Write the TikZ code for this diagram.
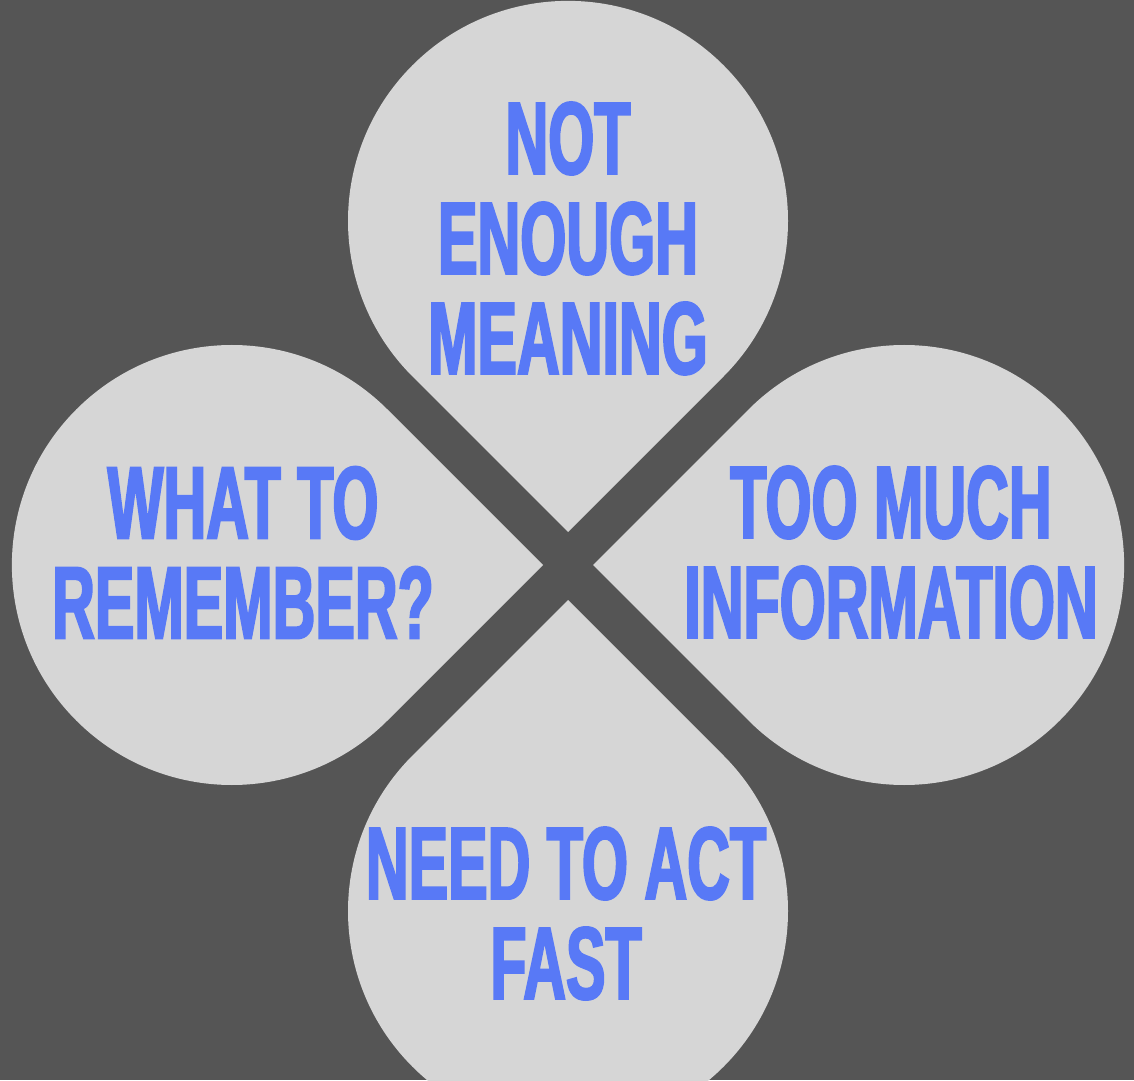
\documentclass[tikz,border=0pt]{standalone}
\usepackage{fontspec}
\newfontfamily\clovfont{Liberation Sans}[FakeStretch=0.575,FakeBold=2]
\definecolor{bgdark}{HTML}{555555}
\definecolor{leafgray}{HTML}{D6D6D6}
\definecolor{leafblue}{RGB}{88,121,246}
\tikzset{
  leaf/.style={fill=leafgray},
  leaflabel/.style={text=leafblue, align=center, inner sep=0pt,
    font=\clovfont\bfseries\fontsize{103pt}{100pt}\selectfont}
}
\begin{document}
\begin{tikzpicture}[x=1pt,y=1pt]
    \fill[bgdark] (0,0) rectangle (1134,1080);
    \clip (0,0) rectangle (1134,1080);
    \coordinate (C) at (568,515);

    % four drops, tip towards C
    \foreach \ang/\tip in {90/33,180/25,0/25,270/35}
    {
        \fill[leaf] (C) ++(\ang:\tip) -- ++(\ang+45:220)
            arc[start angle=\ang+135, end angle=\ang-135, radius=220] -- cycle;
    }

    \node[leaflabel] (meaning) at (568,841.5) {NOT\\ENOUGH\\MEANING};
    \node[leaflabel] (remember) at (243,527.5) {WHAT TO\\REMEMBER?};
    \node[leaflabel] (information) at (891,527.5) {TOO MUCH\\INFORMATION};
    \node[leaflabel] (fast) at (566,166.5) {NEED TO ACT\\FAST};
\end{tikzpicture}
\end{document}
